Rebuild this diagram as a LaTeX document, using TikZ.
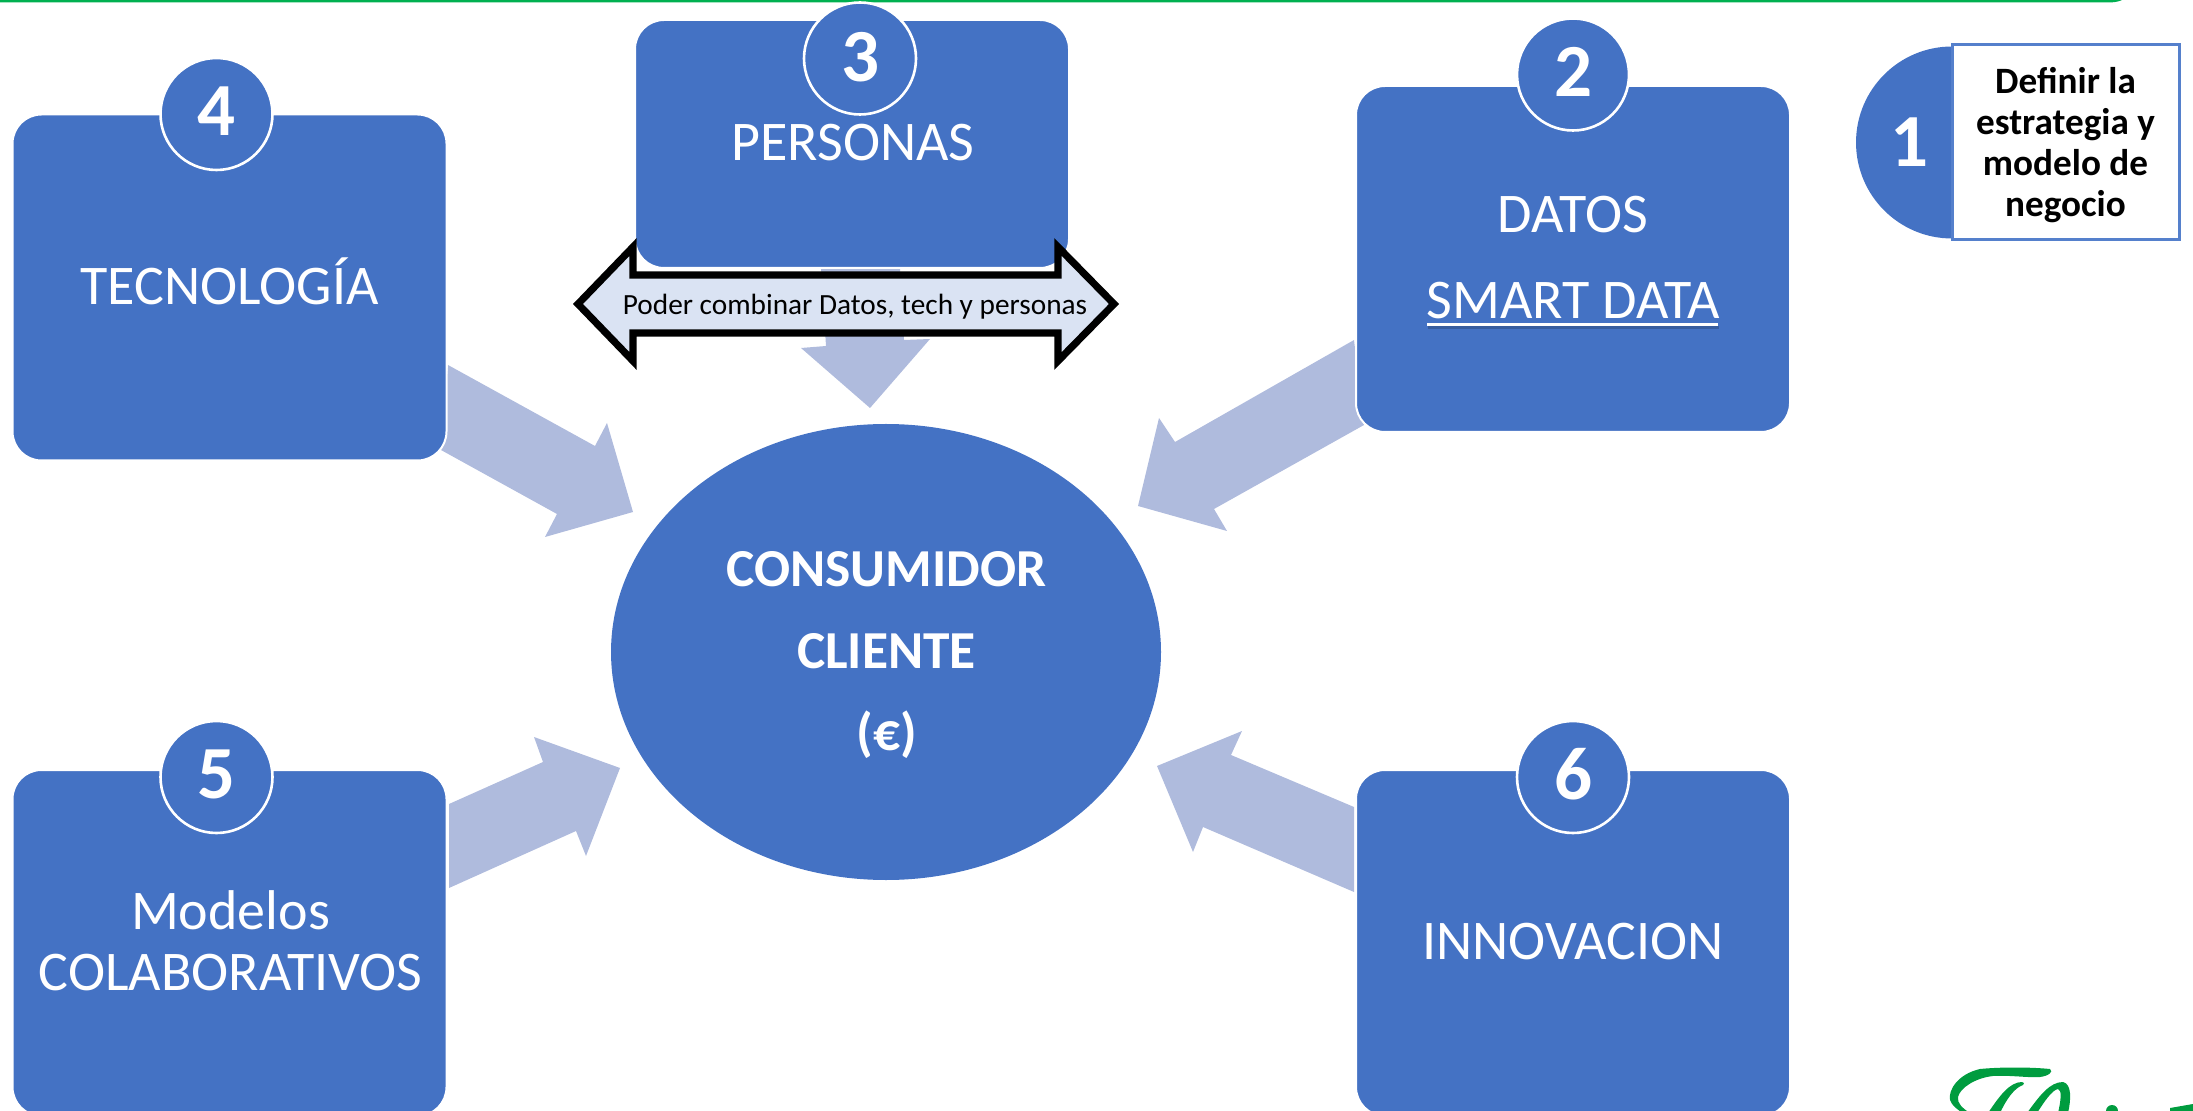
\documentclass[tikz,border=0pt]{standalone}
\usepackage{fontspec}
\usetikzlibrary{shapes.geometric}
\setmainfont{Carlito}
\definecolor{blueA}{HTML}{4472C4}
\definecolor{blueB}{HTML}{5580CC}
\definecolor{arrowA}{HTML}{AFBBDD}
\definecolor{paleA}{HTML}{DAE3F3}
\definecolor{greenA}{HTML}{00B050}
\definecolor{greenB}{HTML}{009C3F}
\definecolor{shadowA}{HTML}{2F4F87}
\newcommand{\digitup}[2]{\raisebox{#1}[\height][\depth]{#2}}
\tikzset{
 card/.style={draw=white,line width=1pt,fill=blueA,rounded corners=14.5pt,minimum width=217pt,minimum height=173pt,inner sep=0pt},
 badge/.style={circle,draw=white,line width=1.3pt,fill=blueA,minimum size=56pt,inner sep=0pt,text=white,font=\fontsize{37.5}{40}\selectfont\bfseries},
 cardtext/.style={text=white,font=\fontsize{28}{30.5}\selectfont,align=center,inner sep=0pt},
 hubtext/.style={text=white,font=\fontsize{26.7}{41}\selectfont\bfseries,align=center,inner sep=0pt},
 blockarrow/.style={fill=arrowA,draw=none},
}
\begin{document}
\begin{tikzpicture}[x=0.5pt,y=-0.5pt]
\useasboundingbox (0,0) rectangle (2193,1111);
\clip (0,0) rectangle (2193,1111);
% top frame
\draw[greenA,line width=1.3pt] (-20,1.2) -- (2108,1.2) .. controls (2118,1.2) and (2124,-1) .. (2130,-8);
% block arrows
\fill[blockarrow] (448,365) -- (595,446) -- (607,423) -- (633,512) -- (545,537) -- (557,514) -- (441,450) -- cycle;
\fill[blockarrow] (821,268) -- (900,268) -- (904,340) -- (930,339) -- (870,408) -- (801,348) -- (826,346) -- cycle;
\fill[blockarrow] (1354,340) -- (1175,442) -- (1159,418) -- (1138,506) -- (1227,531) -- (1214,509) -- (1364,425) -- cycle;
\fill[blockarrow] (449,804) -- (543,762) -- (534,737) -- (620,768) -- (586,856) -- (576,831) -- (449,888) -- cycle;
\fill[blockarrow] (1354,807) -- (1231,755) -- (1242,731) -- (1157,766) -- (1193,852) -- (1203,827) -- (1354,892) -- cycle;
% cards
\node[card] (c4) at (229.5,287.5) {};
\node[card,minimum height=124pt] (c3) at (852,144) {};
\node[card] (c2) at (1573,259) {};
\node[card] (c5) at (229.5,943) {};
\node[card] (c6) at (1573,943) {};
% centre
\node[ellipse,fill=blueA,minimum width=275pt,minimum height=228pt,inner sep=0pt] (hub) at (886,652) {};
\node[hubtext] (hubt) at (886.5,655) {CONSUMIDOR\\CLIENTE\\(€)};
% card labels
\node[cardtext] (t4) at (229.5,281) {TECNOLOGÍA};
\node[cardtext] (t3) at (853,143) {PERSONAS};
\node[cardtext] (t2a) at (1573,215) {DATOS};
\node[cardtext] (t2b) at (1573,301) {SMART DATA};
\draw[shadowA,line width=1.4pt,opacity=.6] (1428,327.5) -- (1719,327.5);
\draw[white,line width=1.5pt] (1427,325) -- (1718,325);
\node[cardtext] (t5) at (230.5,941) {Modelos\\COLABORATIVOS};
\node[cardtext] (t6) at (1573,942) {INNOVACION};
% badges
\node[badge] (b4) at (216.5,114) {\digitup{1.4pt}{4}};
\node[badge] (b3) at (860,58.5) {\digitup{0.7pt}{3}};
\node[badge] (b2) at (1573,74.5) {\digitup{1.4pt}{2}};
\node[badge] (b5) at (216.5,777) {\digitup{1.4pt}{5}};
\node[badge] (b6) at (1573,777) {\digitup{1.6pt}{6}};
% double arrow
\draw[fill=paleA,draw=black,line width=3.6pt,miter limit=10]
 (578,304) -- (633,247) -- (633,275) -- (1058,275) -- (1058,247) -- (1114,304) -- (1058,361) -- (1058,333) -- (633,333) -- (633,361) -- cycle;
\node[inner sep=0pt,font=\fontsize{14.65}{16}\selectfont] (both) at (855,306.5) {Poder combinar Datos, tech y personas};
% step 1
\node[circle,fill=blueA,minimum size=96pt,inner sep=0pt] (s1c) at (1952,142.5) {};
\node[draw=blueB,line width=1.5pt,fill=white,minimum width=113.5pt,minimum height=97.5pt,inner sep=0pt] (s1b) at (2065.5,142.5) {};
\node[inner sep=0pt,align=center,font=\fontsize{18.6}{20.6}\selectfont\bfseries] (s1t) at (2065.5,145) {Definir la\\estrategia y\\modelo de\\negocio};
\node[text=white,inner sep=0pt,font=\fontsize{37.5}{40}\selectfont\bfseries] (s1n) at (1909,142) {1};
% logo fragment
\fill[greenB] (2050,1069) .. controls (2030,1067) and (2000,1067) .. (1980,1069) .. controls (1958,1074) and (1948,1090) .. (1950,1100) .. controls (1952,1106) and (1958,1110) .. (1963,1113) -- (1970,1113) .. controls (1962,1108) and (1957,1103) .. (1958,1097) .. controls (1960,1088) and (1975,1078) .. (1993,1076) .. controls (2010,1075) and (2030,1078) .. (2040,1077) .. controls (2048,1076) and (2054,1072) .. (2050,1069) -- cycle;
\fill[greenB] (2022,1082) .. controls (2010,1082) and (2000,1095) .. (1988,1113) -- (2000,1113) .. controls (2006,1100) and (2014,1088) .. (2023,1085) .. controls (2025,1084) and (2024,1082) .. (2022,1082) -- cycle;
\fill[greenB] (2027,1113) .. controls (2040,1095) and (2050,1082) .. (2063,1082) .. controls (2072,1084) and (2071,1100) .. (2068,1113) -- (2058,1113) .. controls (2061,1100) and (2062,1090) .. (2058,1089) .. controls (2052,1090) and (2044,1102) .. (2037,1113) -- cycle;
\fill[greenB] (2112,1111) circle (6);
\fill[greenB] (2170,1113) -- (2170,1108) -- (2193,1104) -- (2193,1113) -- cycle;
\end{tikzpicture}
\end{document}
